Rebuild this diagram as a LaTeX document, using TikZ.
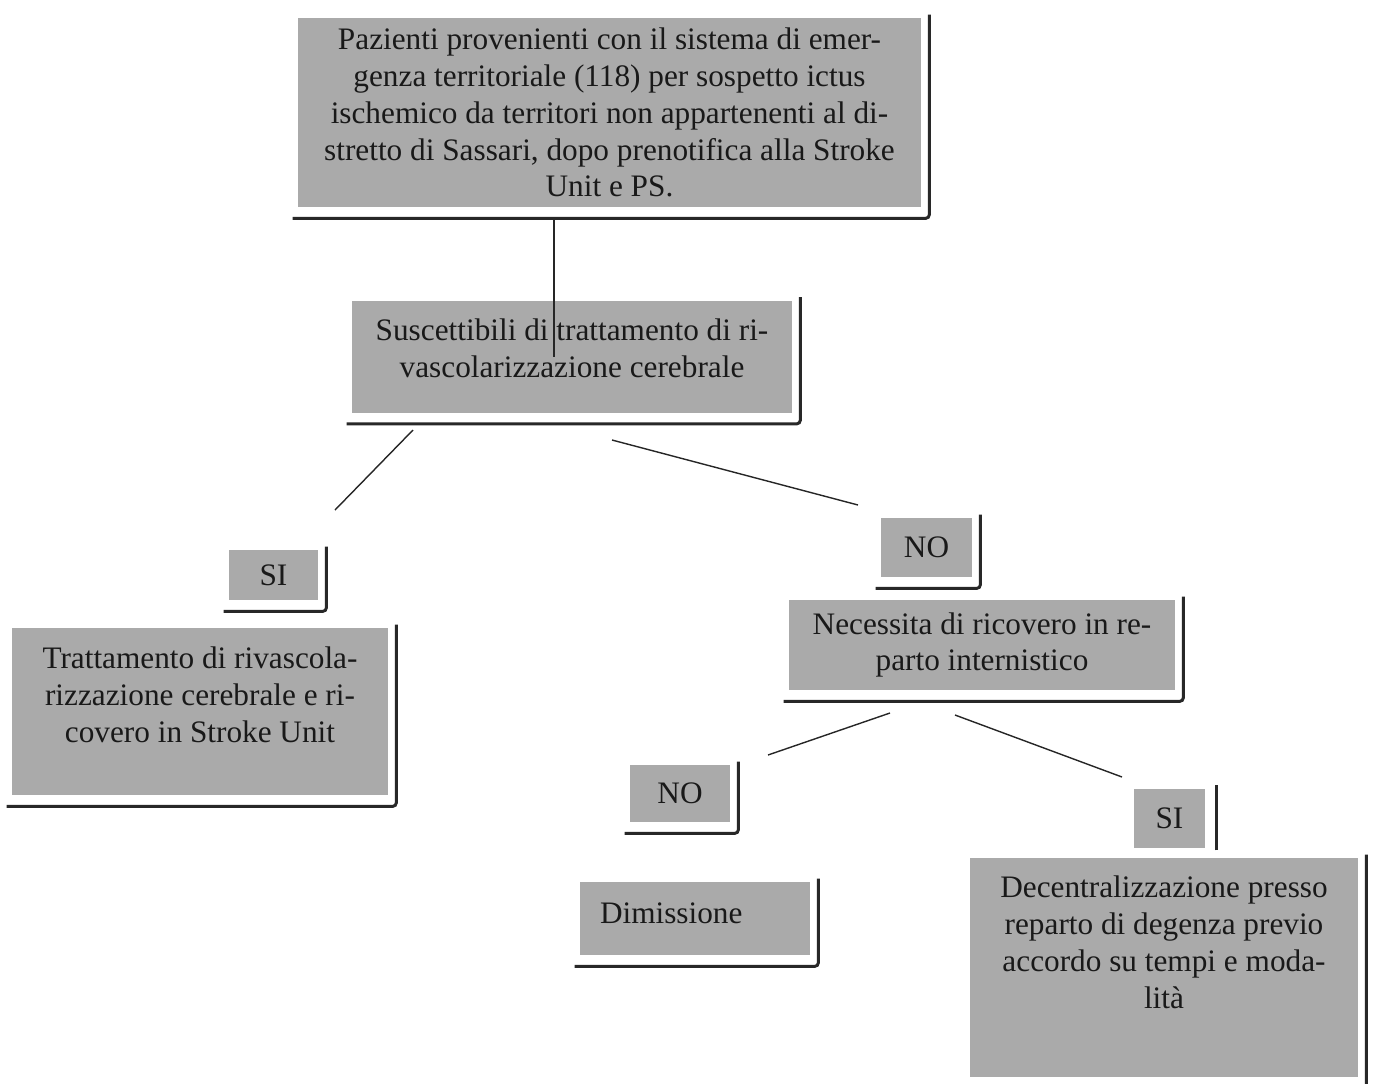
\documentclass[tikz,border=0pt]{standalone}
\usepackage{fontspec}
\setmainfont{Liberation Serif}
\usetikzlibrary{positioning}
\definecolor{grigio}{RGB}{170,170,170}
\definecolor{scuro}{RGB}{40,40,40}
\begin{document}
\begin{tikzpicture}
[x=0.02cm,y=-0.02cm, casella/.style={fill=grigio, inner sep=0pt, align=center, font=\fontsize{17.8}{21}\selectfont, text=black!90},
 ombra/.style={draw=scuro, line width=1.7pt, rounded corners=2pt},
 linea/.style={draw=black!85, line width=0.8pt}]

  \useasboundingbox (0,0) rectangle (1373,1083);
  \clip (0,0) rectangle (1373,1083);

  \node (pazienti) [casella, minimum width=12.46cm, minimum height=3.78cm] at (609.5,112.5)
    {Pazienti provenienti con il sistema di emer-\\genza territoriale (118) per sospetto ictus\\ischemico da territori non appartenenti al di-\\stretto di Sassari, dopo prenotifica alla Stroke\\Unit e PS.};
  \node (suscettibili) [casella, minimum width=8.8cm, minimum height=2.24cm, text depth=10pt] at (572,356.5)
    {Suscettibili di trattamento di ri-\\vascolarizzazione cerebrale};
  \node (si1) [casella, minimum width=1.78cm, minimum height=1cm] at (273.5,575) {SI};
  \node (trattamento) [casella, minimum width=7.52cm, minimum height=3.34cm, text depth=19pt] at (200,711.5)
    {Trattamento di rivascola-\\rizzazione cerebrale e ri-\\covero in Stroke Unit};
  \node (no1) [casella, minimum width=1.82cm, minimum height=1.18cm] at (926.5,547.5) {NO};
  \node (necessita) [casella, minimum width=7.72cm, minimum height=1.8cm] at (982,645)
    {Necessita di ricovero in re-\\parto internistico};
  \node (no2) [casella, minimum width=2cm, minimum height=1.14cm] at (680,793.5) {NO};
  \node (dimissione) [casella, minimum height=1.46cm, text width=3.8cm, inner xsep=0.4cm, align=left, text depth=6pt] at (695,918.5) {Dimissione};
  \node (si2) [casella, minimum width=1.42cm, minimum height=1.18cm] at (1169.5,818.5) {SI};
  \node (decentralizzazione) [casella, minimum width=7.76cm, minimum height=4.38cm, text depth=29pt] at (1164,967.5)
    {Decentralizzazione presso\\reparto di degenza previo\\accordo su tempi e moda-\\lità};

  % ombre
  \foreach \n in {pazienti,suscettibili,si1,trattamento,no1,necessita,no2,dimissione,decentralizzazione}
    \draw [ombra] ([shift={(-5,11)}]\n.south west) -- ([shift={(8,11)}]\n.south east) -- ([shift={(8,-3)}]\n.north east);
  \draw [ombra] ([shift={(11,2)}]si2.south east) -- ([shift={(11,-4)}]si2.north east);

  % collegamenti
  \coordinate (fine) at (554,357);
  \coordinate (a1) at (413,430);
  \coordinate (a2) at (335,510);
  \coordinate (b1) at (612,440);
  \coordinate (b2) at (858,505);
  \coordinate (c1) at (890,713);
  \coordinate (c2) at (768,755);
  \coordinate (d1) at (955,715);
  \coordinate (d2) at (1122,777);
  \draw [linea] (fine |- pazienti.south) ++(0,13) -- (fine);
  \draw [linea] (a1) -- (a2);
  \draw [linea] (b1) -- (b2);
  \draw [linea] (c1) -- (c2);
  \draw [linea] (d1) -- (d2);

\end{tikzpicture}
\end{document}
